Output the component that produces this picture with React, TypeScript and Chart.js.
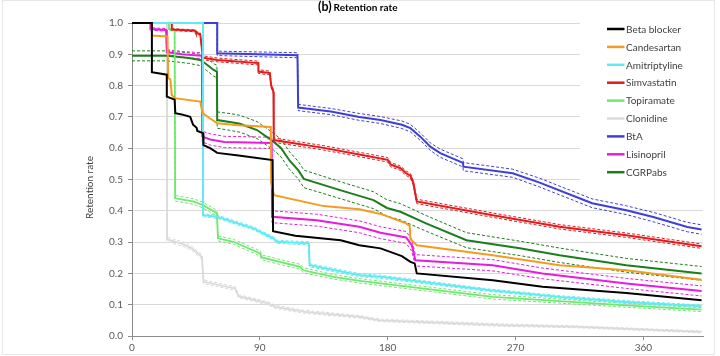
import React, { useEffect, useRef } from "react";
import { Chart, registerables } from "chart.js";

Chart.register(...registerables);

// ---------- tick labels ----------
const xTicks = [0, 90, 180, 270, 360];
const yTicks = [0, 0.1, 0.2, 0.3, 0.4, 0.5, 0.6, 0.7, 0.8, 0.9, 1.0];

// ---------- series (days since start, retention rate, CI half-width) ----------
const betaBlockerDays = [0, 14, 14, 24.5, 24.5, 30, 30.5, 35, 41, 43, 45.5, 46, 50, 50.3, 55, 60, 75, 99, 99.3, 115, 147, 160, 175, 190, 196, 199, 200.5, 254, 289, 348, 401];
const betaBlockerRate = [1, 1, 0.843, 0.835, 0.765, 0.755, 0.712, 0.708, 0.7, 0.675, 0.665, 0.655, 0.648, 0.61, 0.6, 0.585, 0.577, 0.562, 0.335, 0.32, 0.306, 0.29, 0.28, 0.255, 0.237, 0.232, 0.2, 0.178, 0.157, 0.137, 0.114];

const candesartanDays = [0, 14, 14, 25, 25.5, 27, 28, 30, 48, 49.7, 55, 60, 75, 97.7, 98, 100, 135, 160, 175, 193, 195.5, 196, 200.5, 254, 301, 348, 401];
const candesartanRate = [1, 1, 0.96, 0.957, 0.824, 0.82, 0.77, 0.76, 0.749, 0.712, 0.695, 0.68, 0.673, 0.668, 0.49, 0.45, 0.415, 0.405, 0.39, 0.36, 0.352, 0.31, 0.29, 0.258, 0.226, 0.21, 0.18];

const amitriptylineDays = [0, 50, 50, 60, 85.5, 99.6, 102, 124.5, 125, 160.5, 175, 252, 301, 348, 401];
const amitriptylineRate = [1, 1, 0.386, 0.381, 0.344, 0.312, 0.301, 0.296, 0.226, 0.194, 0.189, 0.146, 0.125, 0.109, 0.095];
const amitriptylineCI = [0, 0, 0.005, 0.005, 0.005, 0.005, 0.005, 0.005, 0.005, 0.005, 0.005, 0.004, 0.004, 0.004, 0.004];

const simvastatinDays = [0, 28, 28, 44.5, 45, 48, 50, 60, 89, 89, 97, 98, 99.6, 99.8, 135, 160, 180, 182, 189, 193, 196, 198, 200.5, 254, 301, 348, 401];
const simvastatinRate = [1, 1, 0.979, 0.975, 0.969, 0.965, 0.889, 0.882, 0.872, 0.845, 0.84, 0.8, 0.78, 0.626, 0.601, 0.58, 0.563, 0.548, 0.536, 0.52, 0.512, 0.49, 0.43, 0.386, 0.349, 0.322, 0.287];
const simvastatinCI = [0, 0, 0.003, 0.003, 0.004, 0.004, 0.006, 0.006, 0.006, 0.006, 0.006, 0.006, 0.006, 0.007, 0.007, 0.007, 0.007, 0.007, 0.007, 0.007, 0.007, 0.007, 0.007, 0.007, 0.007, 0.007, 0.007];

const topiramateDays = [0, 26, 26, 30, 30.4, 43, 50, 59.8, 60.5, 71.4, 90.2, 91.4, 118.4, 120.7, 141.8, 160.5, 254, 348, 401];
const topiramateRate = [1, 1, 0.98, 0.978, 0.44, 0.43, 0.418, 0.392, 0.312, 0.301, 0.264, 0.251, 0.221, 0.21, 0.189, 0.176, 0.125, 0.098, 0.084];
const topiramateCI = [0, 0, 0.004, 0.004, 0.009, 0.009, 0.009, 0.009, 0.008, 0.008, 0.008, 0.008, 0.008, 0.008, 0.007, 0.007, 0.007, 0.006, 0.006];

const clonidineDays = [0, 24.6, 24.6, 35, 42, 49.2, 50.4, 72.6, 75, 96, 100.8, 121.9, 160.5, 174.6, 260, 315, 401];
const clonidineRate = [1, 1, 0.309, 0.295, 0.28, 0.253, 0.173, 0.152, 0.127, 0.104, 0.093, 0.077, 0.061, 0.05, 0.035, 0.029, 0.013];
const clonidineCI = [0, 0, 0.007, 0.007, 0.007, 0.007, 0.006, 0.006, 0.005, 0.005, 0.005, 0.005, 0.004, 0.004, 0.004, 0.003, 0.003];

const btaDays = [0, 60, 60, 116.5, 117, 140, 160, 175, 190, 196, 203, 210, 217, 231, 233, 233.3, 268, 287, 315, 324, 348, 367, 391, 401];
const btaRate = [1, 1, 0.903, 0.897, 0.73, 0.717, 0.7, 0.69, 0.675, 0.664, 0.637, 0.605, 0.584, 0.557, 0.553, 0.541, 0.52, 0.49, 0.44, 0.424, 0.402, 0.38, 0.348, 0.34];
const btaCI = [0, 0, 0.007, 0.008, 0.01, 0.01, 0.011, 0.011, 0.012, 0.012, 0.012, 0.012, 0.013, 0.013, 0.013, 0.013, 0.013, 0.014, 0.014, 0.014, 0.014, 0.015, 0.015, 0.015];

const lisinoprilDays = [0, 13, 13, 24, 24.5, 35, 49.2, 49.5, 55, 65, 98.3, 98.6, 130, 160, 175, 193, 197, 199.5, 254, 289, 348, 401];
const lisinoprilRate = [1, 1, 0.981, 0.978, 0.907, 0.9, 0.895, 0.637, 0.628, 0.62, 0.617, 0.381, 0.37, 0.349, 0.33, 0.315, 0.29, 0.242, 0.226, 0.2, 0.168, 0.144];
const lisinoprilCI = [0, 0, 0.004, 0.004, 0.008, 0.009, 0.01, 0.017, 0.018, 0.018, 0.018, 0.019, 0.019, 0.019, 0.019, 0.019, 0.019, 0.018, 0.018, 0.017, 0.016, 0.016];

const cgrpDays = [0, 25, 40, 48, 51, 57.5, 59.8, 60, 70, 76, 88, 99.6, 105, 111, 117, 121, 146.5, 170, 179.5, 189, 207, 235.5, 273, 301, 348, 401];
const cgrpRate = [0.895, 0.895, 0.888, 0.882, 0.873, 0.85, 0.845, 0.69, 0.683, 0.678, 0.658, 0.621, 0.6, 0.56, 0.53, 0.502, 0.466, 0.434, 0.409, 0.397, 0.36, 0.306, 0.28, 0.258, 0.226, 0.2];
const cgrpCI = [0.016, 0.016, 0.017, 0.018, 0.019, 0.02, 0.02, 0.026, 0.027, 0.027, 0.027, 0.027, 0.028, 0.028, 0.028, 0.028, 0.027, 0.027, 0.026, 0.026, 0.025, 0.024, 0.023, 0.023, 0.022, 0.022];

const seriesNames = ["Beta blocker", "Candesartan", "Amitriptyline", "Simvastatin", "Topiramate", "Clonidine", "BtA", "Lisinopril", "CGRPabs"];
const seriesColors = ["#000000", "#F39C1F", "#62E9F2", "#E41A1C", "#6FE86F", "#DADADA", "#3F3FD6", "#E81BE0", "#1C7D1C"];
const seriesDays = [betaBlockerDays, candesartanDays, amitriptylineDays, simvastatinDays, topiramateDays, clonidineDays, btaDays, lisinoprilDays, cgrpDays];
const seriesRates = [betaBlockerRate, candesartanRate, amitriptylineRate, simvastatinRate, topiramateRate, clonidineRate, btaRate, lisinoprilRate, cgrpRate];
const seriesCI: (number[] | null)[] = [null, null, amitriptylineCI, simvastatinCI, topiramateCI, clonidineCI, btaCI, lisinoprilCI, cgrpCI];
const seriesWidth = [2, 2, 2, 2, 1.8, 1.8, 2, 2, 2];

const FONT = "Lato, 'Open Sans', sans-serif";

function buildDatasets() {
  const ds: any[] = [];
  seriesNames.forEach((name, i) => {
    const days = seriesDays[i];
    const rates = seriesRates[i];
    const drawOrder = i === 5 ? 20 : i; // clonidine at the back
    ds.push({
      label: name,
      data: days.map((d, k) => ({ x: d, y: rates[k] })),
      borderColor: seriesColors[i],
      backgroundColor: seriesColors[i],
      borderWidth: seriesWidth[i],
      pointRadius: 0,
      tension: 0,
      fill: false,
      clip: 4,
      order: drawOrder,
    });
    const ci = seriesCI[i];
    if (ci) {
      ["upper", "lower"].forEach((side) => {
        const sign = side === "upper" ? 1 : -1;
        ds.push({
          label: name + " " + side,
          data: days.map((d, k) => ({ x: d, y: rates[k] + sign * ci[k] })),
          borderColor: seriesColors[i],
          borderWidth: 1,
          borderDash: [3, 2],
          pointRadius: 0,
          tension: 0,
          fill: false,
          clip: 4,
          order: 30 + drawOrder,
        });
      });
    }
  });
  return ds;
}

const overlayPlugin = {
  id: "overlay",
  beforeDatasetsDraw(chart: any) {
    const ctx = chart.ctx;
    ctx.save();
    ctx.fillStyle = "#ffffff";
    ctx.fillRect(580, 0, 140, 186);
    ctx.restore();
  },
  afterDraw(chart: any) {
    const ctx = chart.ctx;
    ctx.save();
    // faint outer border
    ctx.strokeStyle = "#e6e6e6";
    ctx.lineWidth = 1;
    ctx.strokeRect(2.5, 0.5, 712, 354);

    // title
    ctx.fillStyle = "#000000";
    ctx.textBaseline = "alphabetic";
    ctx.textAlign = "left";
    ctx.font = "bold 12.5px " + FONT;
    const t1 = "(b)";
    const w1 = ctx.measureText(t1).width;
    ctx.fillText(t1, 318, 10.7);
    ctx.font = "bold 10px " + FONT;
    ctx.fillText("Retention rate", 318 + w1 + 2, 10.7);

    // y axis title
    ctx.save();
    ctx.translate(90, 187.5);
    ctx.rotate(-Math.PI / 2);
    ctx.textAlign = "center";
    ctx.textBaseline = "middle";
    ctx.font = "10px " + FONT;
    ctx.fillStyle = "#404040";
    ctx.fillText("Retention rate", 0, 0);
    ctx.restore();

    // legend
    ctx.font = "10px " + FONT;
    ctx.textBaseline = "middle";
    ctx.textAlign = "left";
    seriesNames.forEach((name, i) => {
      const y = 29 + i * 17.9;
      ctx.strokeStyle = seriesColors[i];
      ctx.lineWidth = 2.5;
      ctx.beginPath();
      ctx.moveTo(607, y);
      ctx.lineTo(624.5, y);
      ctx.stroke();
      ctx.fillStyle = "#404040";
      ctx.fillText(name, 626, y + 0.5);
    });
    ctx.restore();
  },
};

export default function App() {
  const canvasRef = useRef<HTMLCanvasElement | null>(null);

  useEffect(() => {
    if (!canvasRef.current) return;
    const chart = new Chart(canvasRef.current, {
      type: "line",
      data: { datasets: buildDatasets() },
      options: {
        animation: false,
        responsive: false,
        devicePixelRatio: 1,
        layout: { padding: { top: 23, right: 17, left: 0, bottom: 0 } },
        plugins: {
          legend: { display: false },
          tooltip: { enabled: false },
          title: { display: false },
        },
        scales: {
          x: {
            type: "linear",
            min: 0,
            max: 402,
            afterBuildTicks: (s: any) => {
              s.ticks = xTicks.map((v) => ({ value: v }));
            },
            afterFit: (s: any) => {
              s.height = 20;
            },
            grid: { drawOnChartArea: false, tickLength: 4, tickColor: "#8c8c8c" },
            border: { color: "#8c8c8c", width: 1 },
            ticks: {
              autoSkip: false,
              maxRotation: 0,
              padding: 2,
              color: "#595959",
              font: { family: FONT, size: 10 },
            },
          },
          y: {
            type: "linear",
            min: 0,
            max: 1,
            afterBuildTicks: (s: any) => {
              s.ticks = yTicks.map((v) => ({ value: v }));
            },
            afterFit: (s: any) => {
              s.width = 132;
            },
            grid: { color: "#d9d9d9", tickLength: 4, tickColor: "#8c8c8c" },
            border: { color: "#8c8c8c", width: 1 },
            ticks: {
              padding: 5,
              color: "#595959",
              font: { family: FONT, size: 10 },
              callback: (v: any) => Number(v).toFixed(1),
            },
          },
        },
      },
      plugins: [overlayPlugin],
    });
    return () => chart.destroy();
  }, []);

  return (
    <div style={{ position: "fixed", left: 0, top: 0, width: 720, height: 356, background: "#ffffff" }}>
      <canvas ref={canvasRef} width={720} height={356} style={{ width: 720, height: 356, display: "block" }} />
    </div>
  );
}
